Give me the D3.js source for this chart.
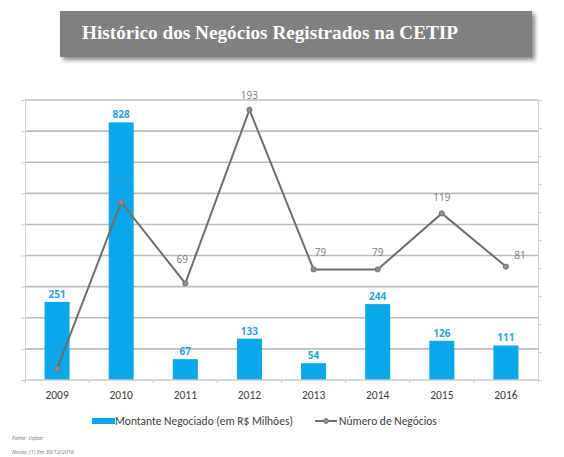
<!DOCTYPE html>
<html>
<head>
<meta charset="utf-8">
<script src="https://cdn.jsdelivr.net/npm/d3@7"></script>
<style>
  body { margin: 0; background: #fff; }
  svg { display: block; }
</style>
</head>
<body>
<div id="chart"></div>
<script>
var anos = ["2009", "2010", "2011", "2012", "2013", "2014", "2015", "2016"];
var montante = [251, 828, 67, 133, 54, 244, 126, 111];
var negocios = [8, 127, 69, 193, 79, 79, 119, 81];
var negociosLabels = ["8", "128", "69", "193", "79", "79", "119", "81"];
var leftTicks = [0, 100, 200, 300, 400, 500, 600, 700, 800, 900];
var rightTicks = [0, 20, 40, 60, 80, 100, 120, 140, 160, 180, 200];

var W = 564, H = 457;
var margin = { top: 100, right: 26, bottom: 77, left: 25 },
    width = W - margin.left - margin.right,
    height = H - margin.top - margin.bottom;

var svg = d3.select("#chart").append("svg")
    .attr("width", W)
    .attr("height", H);

// title box with soft shadow
var defs = svg.append("defs");
var f = defs.append("filter").attr("id", "shadow")
    .attr("x", "-5%").attr("y", "-20%").attr("width", "115%").attr("height", "160%");
f.append("feDropShadow").attr("dx", 3).attr("dy", 3).attr("stdDeviation", 2)
    .attr("flood-color", "#000").attr("flood-opacity", 0.45);

svg.append("rect")
    .attr("x", 60).attr("y", 11)
    .attr("width", 472).attr("height", 46)
    .attr("fill", "#808080")
    .attr("filter", "url(#shadow)");

svg.append("text")
    .attr("x", 82).attr("y", 39)
    .attr("font-family", "'Liberation Serif', 'DejaVu Serif', serif")
    .attr("font-weight", "bold")
    .attr("font-size", 18)
    .attr("fill", "#fff")
    .attr("textLength", 376)
    .attr("lengthAdjust", "spacingAndGlyphs")
    .text("Histórico dos Negócios Registrados na CETIP");

var g = svg.append("g")
    .attr("transform", "translate(" + margin.left + "," + margin.top + ")");

var x = d3.scaleBand().domain(anos).range([0, width]).paddingInner(0.61).paddingOuter(0.305);
var yL = d3.scaleLinear().domain([0, 900]).range([height, 0]);
var yR = d3.scaleLinear().domain([0, 200]).range([height, 0]);

// gridlines
g.append("g").selectAll("line")
    .data(leftTicks.slice(1))
    .join("line")
    .attr("x1", 0).attr("x2", width)
    .attr("y1", d => yL(d)).attr("y2", d => yL(d))
    .attr("stroke", "#bdbdbd")
    .attr("stroke-width", 1.6);

// left axis (no labels)
var leftAxis = g.append("g")
    .call(d3.axisLeft(yL).tickValues(leftTicks).tickSize(4).tickFormat(""));
leftAxis.selectAll("line, path").attr("stroke", "#d0d0d0");

// right axis (no labels)
var rightAxis = g.append("g")
    .attr("transform", "translate(" + width + ",0)")
    .call(d3.axisRight(yR).tickValues(rightTicks).tickSize(4).tickFormat(""));
rightAxis.selectAll("line, path").attr("stroke", "#d0d0d0");

// bars
g.append("g").selectAll("rect")
    .data(montante)
    .join("rect")
    .attr("x", (d, i) => x(anos[i]))
    .attr("y", d => yL(d))
    .attr("width", x.bandwidth())
    .attr("height", d => height - yL(d))
    .attr("fill", "#0aa8e8");

// bottom axis
var bottom = g.append("g")
    .attr("transform", "translate(0," + height + ")");
bottom.append("line")
    .attr("x1", 0).attr("x2", width)
    .attr("stroke", "#c8c8c8").attr("stroke-width", 1.5);
bottom.selectAll("line.tk")
    .data(d3.range(anos.length + 1))
    .join("line")
    .attr("class", "tk")
    .attr("x1", d => d * x.step()).attr("x2", d => d * x.step())
    .attr("y1", 0).attr("y2", 3)
    .attr("stroke", "#c8c8c8");
bottom.selectAll("text")
    .data(anos)
    .join("text")
    .attr("x", d => x(d) + x.bandwidth() / 2)
    .attr("y", 19)
    .attr("text-anchor", "middle")
    .attr("font-family", "Calibri, Carlito, 'Open Sans', sans-serif")
    .attr("font-size", 11.5)
    .attr("fill", "#404040")
    .text(d => d);

// bar labels
g.append("g").selectAll("text")
    .data(montante)
    .join("text")
    .attr("x", (d, i) => x(anos[i]) + x.bandwidth() / 2)
    .attr("y", d => yL(d) - 4)
    .attr("text-anchor", "middle")
    .attr("font-family", "'Open Sans', sans-serif")
    .attr("font-weight", "bold")
    .attr("font-size", 10)
    .attr("fill", "#2aa4de")
    .text(d => d);

// line
var cx = i => x(anos[i]) + x.bandwidth() / 2;
var line = d3.line()
    .x((d, i) => cx(i))
    .y(d => yR(d));

g.append("path")
    .datum(negocios)
    .attr("d", line)
    .attr("fill", "none")
    .attr("stroke", "#6e6e6e")
    .attr("stroke-width", 2);

g.append("g").selectAll("circle")
    .data(negocios)
    .join("circle")
    .attr("cx", (d, i) => cx(i))
    .attr("cy", d => yR(d))
    .attr("r", 2.6)
    .attr("fill", "#9a8a8a")
    .attr("stroke", "#777")
    .attr("stroke-width", 1);

// line labels, placed like the excel default (some shifted)
var off = [[0, -18], [0, -18], [-3, -20], [0, -11], [7, -13], [0, -13], [0, -12], [14, -8]];
g.append("g").selectAll("text")
    .data(negocios)
    .join("text")
    .attr("x", (d, i) => cx(i) + off[i][0])
    .attr("y", (d, i) => yR(d) + off[i][1])
    .attr("text-anchor", "middle")
    .attr("font-family", "'Open Sans', sans-serif")
    .attr("font-size", 10)
    .attr("fill", "#7a7a7a")
    .attr("opacity", (d, i) => i < 2 ? 0.25 : 1)
    .text((d, i) => negociosLabels[i]);

// legend
var lg = svg.append("g").attr("transform", "translate(0,421)");
lg.append("rect")
    .attr("x", 92).attr("y", -3)
    .attr("width", 23).attr("height", 6)
    .attr("fill", "#0aa8e8");
lg.append("text")
    .attr("x", 115).attr("y", 4)
    .attr("font-family", "Calibri, Carlito, 'Open Sans', sans-serif")
    .attr("font-size", 11.5)
    .attr("fill", "#404040")
    .text("Montante Negociado (em R$ Milhões)");
lg.append("line")
    .attr("x1", 315).attr("x2", 337)
    .attr("stroke", "#6e6e6e").attr("stroke-width", 2);
lg.append("circle")
    .attr("cx", 326).attr("cy", 0).attr("r", 2.4)
    .attr("fill", "#9a8a8a").attr("stroke", "#777");
lg.append("text")
    .attr("x", 339).attr("y", 4)
    .attr("font-family", "Calibri, Carlito, 'Open Sans', sans-serif")
    .attr("font-size", 11.5)
    .attr("fill", "#404040")
    .text("Número de Negócios");

// footer
svg.append("text")
    .attr("x", 12).attr("y", 440)
    .attr("font-family", "'Open Sans', sans-serif")
    .attr("font-style", "italic")
    .attr("font-size", 5.5)
    .attr("fill", "#777")
    .text("Fonte: Uqbar");
svg.append("text")
    .attr("x", 12).attr("y", 454)
    .attr("font-family", "'Open Sans', sans-serif")
    .attr("font-style", "italic")
    .attr("font-size", 5.5)
    .attr("fill", "#777")
    .text("Notas: (1) Em 30/12/2016");
</script>
</body>
</html>
